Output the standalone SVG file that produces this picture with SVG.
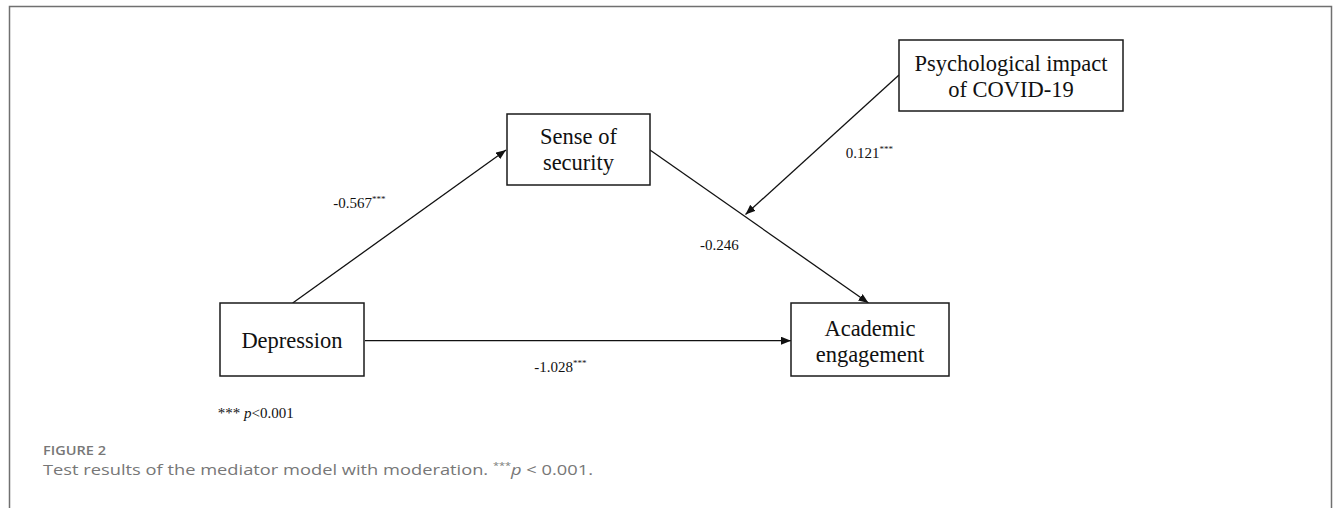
<svg xmlns="http://www.w3.org/2000/svg" width="1335" height="508" viewBox="0 0 1335 508">
<defs>
<style>
.box{fill:#fff;stroke:#1a1a1a;stroke-width:1.5}
.nt{font-family:"Liberation Serif","Times New Roman",serif;font-size:22.5px;fill:#111;text-anchor:middle}
.el{font-family:"Liberation Serif","Times New Roman",serif;font-size:15px;fill:#111}
.sup{font-size:9px}
.edge{stroke:#111;stroke-width:1.3;fill:none;marker-end:url(#ah)}
.cap{font-family:"Open Sans","Noto Sans",sans-serif;fill:#777}
</style>
<marker id="ah" viewBox="0 0 10 8" refX="10" refY="4" markerWidth="10" markerHeight="8" markerUnits="userSpaceOnUse" orient="auto">
<path d="M0,0 L10,4 L0,8 Z" fill="#111"/>
</marker>
</defs>
<rect width="1335" height="508" fill="#fff"/>
<path d="M9.5,508 V6.5 H1331.5 V508" fill="none" stroke="#707070" stroke-width="1.5"/>

<g id="connectors">
<line class="edge" x1="292.7" y1="303" x2="506" y2="150"/>
<line class="edge" x1="650" y1="150" x2="868.5" y2="303"/>
<line class="edge" x1="899" y1="75" x2="745.5" y2="214.5"/>
<line class="edge" x1="365" y1="340.7" x2="791" y2="340.7"/>
<text class="el" x="333.3" y="208.3">-0.567<tspan class="sup" dy="-6">***</tspan></text>
<text class="el" x="845.7" y="158.3">0.121<tspan class="sup" dy="-6">***</tspan></text>
<text class="el" x="700" y="250">-0.246</text>
<text class="el" x="534.3" y="371.7">-1.028<tspan class="sup" dy="-6">***</tspan></text>
</g>

<g id="node-sense">
<rect class="box" x="507" y="114" width="143" height="71"/>
<text class="nt" x="578.5" y="144.3">Sense of</text>
<text class="nt" x="578.5" y="170">security</text>
</g>
<g id="node-psych">
<rect class="box" x="899" y="40" width="224" height="71"/>
<text class="nt" x="1011" y="70.7">Psychological impact</text>
<text class="nt" x="1011" y="97.3">of COVID-19</text>
</g>
<g id="node-depression">
<rect class="box" x="220" y="303" width="144" height="73"/>
<text class="nt" x="292" y="348.3">Depression</text>
</g>
<g id="node-academic">
<rect class="box" x="791" y="303" width="158" height="73"/>
<text class="nt" x="870" y="335.7">Academic</text>
<text class="nt" x="870" y="361.7">engagement</text>
</g>

<g id="note">
<text class="el" x="217.7" y="418.3">*** <tspan font-style="italic">p</tspan>&lt;0.001</text>
</g>

<g id="caption">
<text class="cap" x="43" y="454.5" font-size="12" font-weight="600" fill="#666" textLength="63" lengthAdjust="spacingAndGlyphs">FIGURE 2</text>
<text class="cap" x="43" y="475" font-size="15" textLength="550" lengthAdjust="spacingAndGlyphs">Test results of the mediator model with moderation. <tspan font-size="9" dy="-6">***</tspan><tspan dy="6" font-style="italic">p</tspan> &lt; 0.001.</text>
</g>
</svg>
